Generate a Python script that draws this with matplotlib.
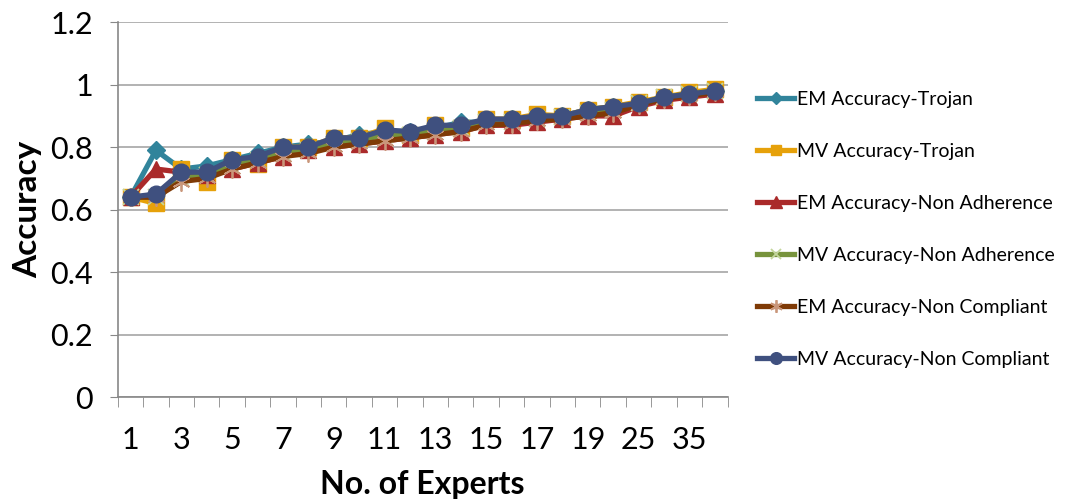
import matplotlib.pyplot as plt
import numpy as np

plt.rcParams["font.family"] = ["Lato", "DejaVu Sans"]

experts = [1, 2, 3, 4, 5, 6, 7, 8, 9, 10, 11, 12, 13, 14, 15, 16, 17, 18, 19, 20, 25, 30, 35, 40]

em_trojan = [0.64, 0.79, 0.73, 0.74, 0.76, 0.78, 0.80, 0.81, 0.82, 0.84, 0.85, 0.85,
             0.86, 0.88, 0.88, 0.89, 0.90, 0.90, 0.92, 0.93, 0.94, 0.96, 0.97, 0.98]
mv_trojan = [0.64, 0.62, 0.73, 0.69, 0.76, 0.745, 0.80, 0.80, 0.83, 0.83, 0.86, 0.84,
             0.87, 0.86, 0.89, 0.89, 0.905, 0.90, 0.92, 0.93, 0.945, 0.96, 0.975, 0.985]
em_nonadh = [0.64, 0.73, 0.72, 0.71, 0.73, 0.75, 0.77, 0.79, 0.80, 0.81, 0.82, 0.83,
             0.84, 0.85, 0.87, 0.87, 0.88, 0.89, 0.90, 0.90, 0.93, 0.95, 0.96, 0.97]
mv_nonadh = [0.64, 0.64, 0.70, 0.71, 0.74, 0.76, 0.78, 0.79, 0.81, 0.82, 0.84, 0.84,
             0.85, 0.86, 0.88, 0.88, 0.89, 0.895, 0.91, 0.92, 0.94, 0.96, 0.97, 0.98]
em_noncomp = [0.64, 0.64, 0.69, 0.70, 0.73, 0.75, 0.77, 0.78, 0.80, 0.81, 0.82, 0.83,
              0.84, 0.85, 0.87, 0.875, 0.885, 0.89, 0.90, 0.91, 0.935, 0.955, 0.965, 0.975]
mv_noncomp = [0.64, 0.65, 0.72, 0.72, 0.76, 0.77, 0.80, 0.80, 0.83, 0.83, 0.855, 0.85,
              0.87, 0.87, 0.89, 0.89, 0.90, 0.90, 0.92, 0.93, 0.94, 0.96, 0.97, 0.98]

x = np.arange(len(experts))

fig = plt.figure(figsize=(10.81, 5.04), dpi=100)
ax = fig.add_axes([0.109, 0.212, 0.564, 0.744])

lw = 3.8
ax.plot(x, em_trojan, color="#31849B", lw=lw, marker="D", ms=9, label="EM Accuracy-Trojan")
ax.plot(x, mv_trojan, color="#E6A10A", lw=lw, marker="s", ms=11, label="MV Accuracy-Trojan")
ax.plot(x, em_nonadh, color="#AA2A2A", lw=lw, marker="^", ms=12, label="EM Accuracy-Non Adherence")
ax.plot(x, mv_nonadh, color="#77933C", lw=lw, marker="x", ms=11, mec="#C3D69B", mew=1.3,
        label="MV Accuracy-Non Adherence")
ax.plot(x, em_noncomp, color="#7F3A06", lw=lw, marker=(6, 2, 0), ms=13, mec="#C9967A", mew=1.3,
        label="EM Accuracy-Non Compliant")
ax.plot(x, mv_noncomp, color="#3F507F", lw=lw, marker="o", ms=12, label="MV Accuracy-Non Compliant")

ax.set_ylim(0, 1.2)
ax.set_yticks(np.arange(0, 1.21, 0.2))
ax.set_yticklabels(["0", "0.2", "0.4", "0.6", "0.8", "1", "1.2"])
ax.set_xlim(-0.5, len(experts) - 0.5)
ax.set_xticks(x[::2])
ax.set_xticklabels([str(e) for e in experts[::2]])
ax.set_xticks(np.arange(-0.5, len(experts), 1), minor=True)
ax.tick_params(axis="x", which="major", length=0, labelsize=22, pad=21)
ax.tick_params(axis="x", which="minor", length=7, color="#888888")
ax.tick_params(axis="y", length=6, color="#888888", labelsize=22, pad=12)

ax.grid(axis="y", color="#A6A6A6", lw=1.2)
ax.set_axisbelow(True)
for s in ["top", "right"]:
    ax.spines[s].set_visible(False)
for s in ["left", "bottom"]:
    ax.spines[s].set_color("#888888")
    ax.spines[s].set_linewidth(1.2)

ax.set_xlabel("No. of Experts", fontsize=23, fontweight="bold", labelpad=11)
ax.set_ylabel("Accuracy", fontsize=24, fontweight="bold", labelpad=6)

ax.legend(loc="center left", bbox_to_anchor=(1.02, 0.448), frameon=False, fontsize=14,
          labelspacing=1.8, handlelength=1.9, handletextpad=0.15, borderaxespad=0.5,
          markerscale=0.7)

fig.savefig("out.png", dpi=100)
